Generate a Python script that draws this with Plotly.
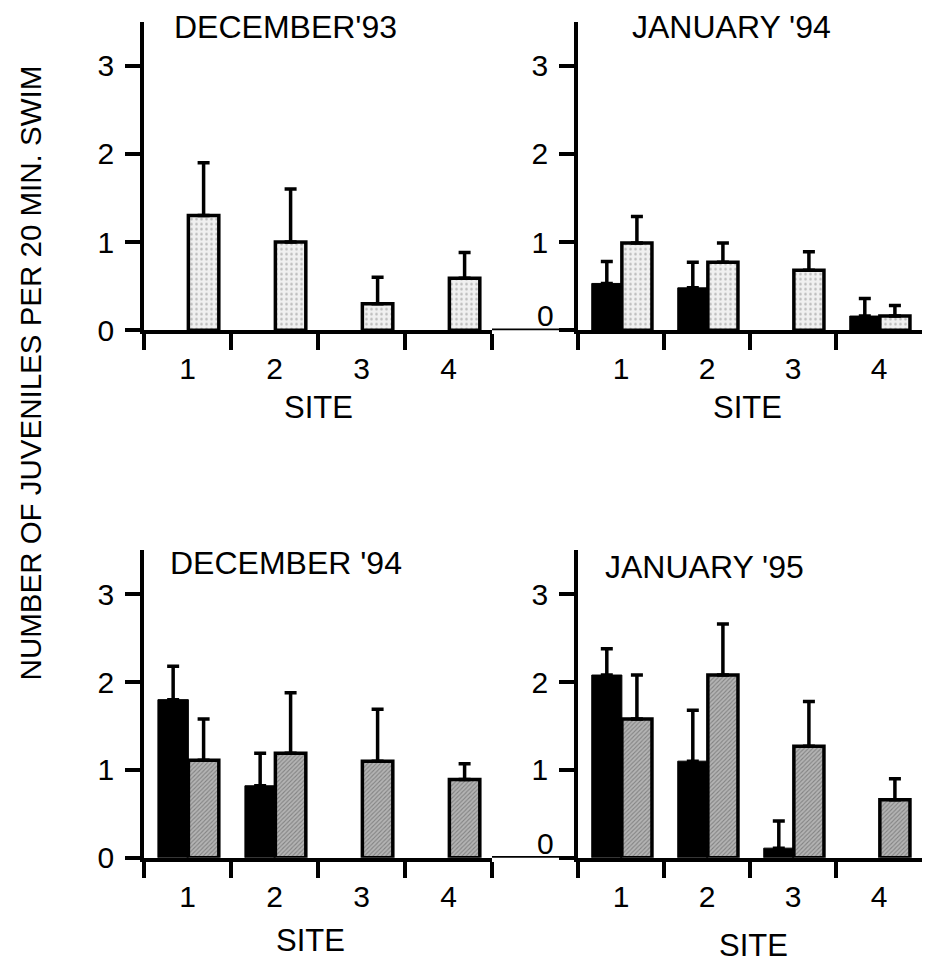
import plotly.graph_objects as go

sites = ["1", "2", "3", "4"]
panel_titles = ["DECEMBER'93", "JANUARY '94", "DECEMBER '94", "JANUARY '95"]
y_ticks = [0, 1, 2, 3]
y_title = "NUMBER OF JUVENILES PER 20 MIN. SWIM"
x_title = "SITE"

dec93_black = [None, None, None, None]
dec93_black_err = [0, 0, 0, 0]
dec93_gray = [1.30, 1.00, 0.30, 0.59]
dec93_gray_err = [0.60, 0.60, 0.30, 0.29]

jan94_black = [0.53, 0.48, None, 0.16]
jan94_black_err = [0.25, 0.29, 0, 0.20]
jan94_gray = [0.99, 0.77, 0.68, 0.16]
jan94_gray_err = [0.30, 0.22, 0.21, 0.12]

dec94_black = [1.80, 0.82, None, None]
dec94_black_err = [0.38, 0.37, 0, 0]
dec94_gray = [1.11, 1.19, 1.10, 0.89]
dec94_gray_err = [0.47, 0.69, 0.59, 0.18]

jan95_black = [2.08, 1.10, 0.11, None]
jan95_black_err = [0.30, 0.58, 0.31, 0]
jan95_gray = [1.58, 2.08, 1.27, 0.66]
jan95_gray_err = [0.50, 0.58, 0.51, 0.24]

panels = [
    (dec93_black, dec93_black_err, dec93_gray, dec93_gray_err),
    (jan94_black, jan94_black_err, jan94_gray, jan94_gray_err),
    (dec94_black, dec94_black_err, dec94_gray, dec94_gray_err),
    (jan95_black, jan95_black_err, jan95_gray, jan95_gray_err),
]

W, H = 926, 978
FONT = "Liberation Sans, Arial, Helvetica, sans-serif"
LW = 3.5

# panel geometry (pixels)
xdom_px = [(144, 492), (578, 922), (144, 492), (578, 922)]
ydom_px = [(22, 336), (22, 336), (560, 873), (560, 873)]

top_pattern = dict(shape=".", bgcolor="#f0f0f0", fgcolor="#808080", size=5, solidity=0.2)
bot_pattern = dict(shape="/", bgcolor="#b4b4b4", fgcolor="#505050", size=3, solidity=0.35)

fig = go.Figure()
BW = 0.35
for i, (bk, bke, gr, gre) in enumerate(panels):
    ax = "" if i == 0 else str(i + 1)
    pattern = top_pattern if i < 2 else bot_pattern
    fig.add_trace(go.Bar(
        x=sites, y=bk, width=BW, offset=-BW + 0.01,
        marker=dict(color="black", line=dict(color="black", width=1)),
        error_y=dict(type="data", array=bke, arrayminus=[0] * 4, symmetric=False,
                     color="black", thickness=LW, width=6),
        xaxis="x" + ax, yaxis="y" + ax, showlegend=False,
    ))
    fig.add_trace(go.Bar(
        x=sites, y=gr, width=BW, offset=0.01,
        marker=dict(color=pattern["bgcolor"], line=dict(color="black", width=LW),
                    pattern=pattern),
        error_y=dict(type="data", array=gre, arrayminus=[0] * 4, symmetric=False,
                     color="black", thickness=LW, width=6),
        xaxis="x" + ax, yaxis="y" + ax, showlegend=False,
    ))

layout = dict(
    width=W, height=H, margin=dict(l=0, r=0, t=0, b=0),
    paper_bgcolor="white", plot_bgcolor="white",
    barmode="overlay", font=dict(family=FONT, color="black"),
    showlegend=False,
)
annotations = []
shapes = []
for i in range(4):
    ax = "" if i == 0 else str(i + 1)
    x0, x1 = xdom_px[i]
    yt, yb = ydom_px[i]
    right = i % 2 == 1
    layout["xaxis" + ax] = dict(
        domain=[x0 / W, x1 / W], anchor="y" + ax, type="category",
        range=[-0.5, 3.5], tickson="boundaries", ticks="outside", ticklen=16,
        tickwidth=LW, tickcolor="black", showline=True, linewidth=LW, linecolor="black",
        showgrid=False, zeroline=False, tickfont=dict(size=30, family=FONT),
        ticklabelstandoff=9, fixedrange=True,
    )
    layout["yaxis" + ax] = dict(
        domain=[(H - yb) / H, (H - yt) / H], anchor="x" + ax,
        range=[0, 3.5], tickvals=y_ticks,
        ticktext=[("" if (right and v == 0) else str(v)) for v in y_ticks],
        ticks="outside", ticklen=15, tickwidth=LW, tickcolor="black",
        showline=True, linewidth=LW, linecolor="black", showgrid=False, zeroline=False,
        tickfont=dict(size=30, family=FONT), ticklabelstandoff=5, fixedrange=True,
    )
    if right:
        # the zero label of the right-hand panels sits just above the baseline
        annotations.append(dict(text=str(y_ticks[0]), x=556 / W, y=y_ticks[0], xref="paper",
                                yref="y" + ax, xanchor="right", yanchor="bottom",
                                yshift=-4, showarrow=False, font=dict(size=30, family=FONT)))

title_pos = [(172, 27), (630, 27), (168, 573), (603, 577)]
site_pos = [(318, 415), (747, 415), (310, 957), (753, 962)]
for i in range(4):
    tx, ty = title_pos[i]
    annotations.append(dict(text=panel_titles[i], x=tx / W, y=(H - ty) / H, xref="paper",
                            yref="paper", xanchor="left", yanchor="middle", showarrow=False,
                            font=dict(size=32, family=FONT)))
    sx, sy = site_pos[i]
    annotations.append(dict(text=x_title, x=sx / W, y=(H - sy) / H, xref="paper",
                            yref="paper", xanchor="center", yanchor="middle", showarrow=False,
                            font=dict(size=31, family=FONT)))

annotations.append(dict(text=y_title, x=30 / W, y=(H - 380) / H, xref="paper", yref="paper",
                        xanchor="center", yanchor="middle", textangle=-90, showarrow=False,
                        font=dict(size=29.5, family=FONT)))

# continuation of the zero baseline between the two panels of each row
for yref in ["y", "y3"]:
    shapes.append(dict(type="line", xref="paper", yref=yref, x0=492 / W, x1=578 / W,
                       y0=0, y1=0, line=dict(color="black", width=LW)))

layout["annotations"] = annotations
layout["shapes"] = shapes
fig.update_layout(**layout)
fig.write_html("out.html")
